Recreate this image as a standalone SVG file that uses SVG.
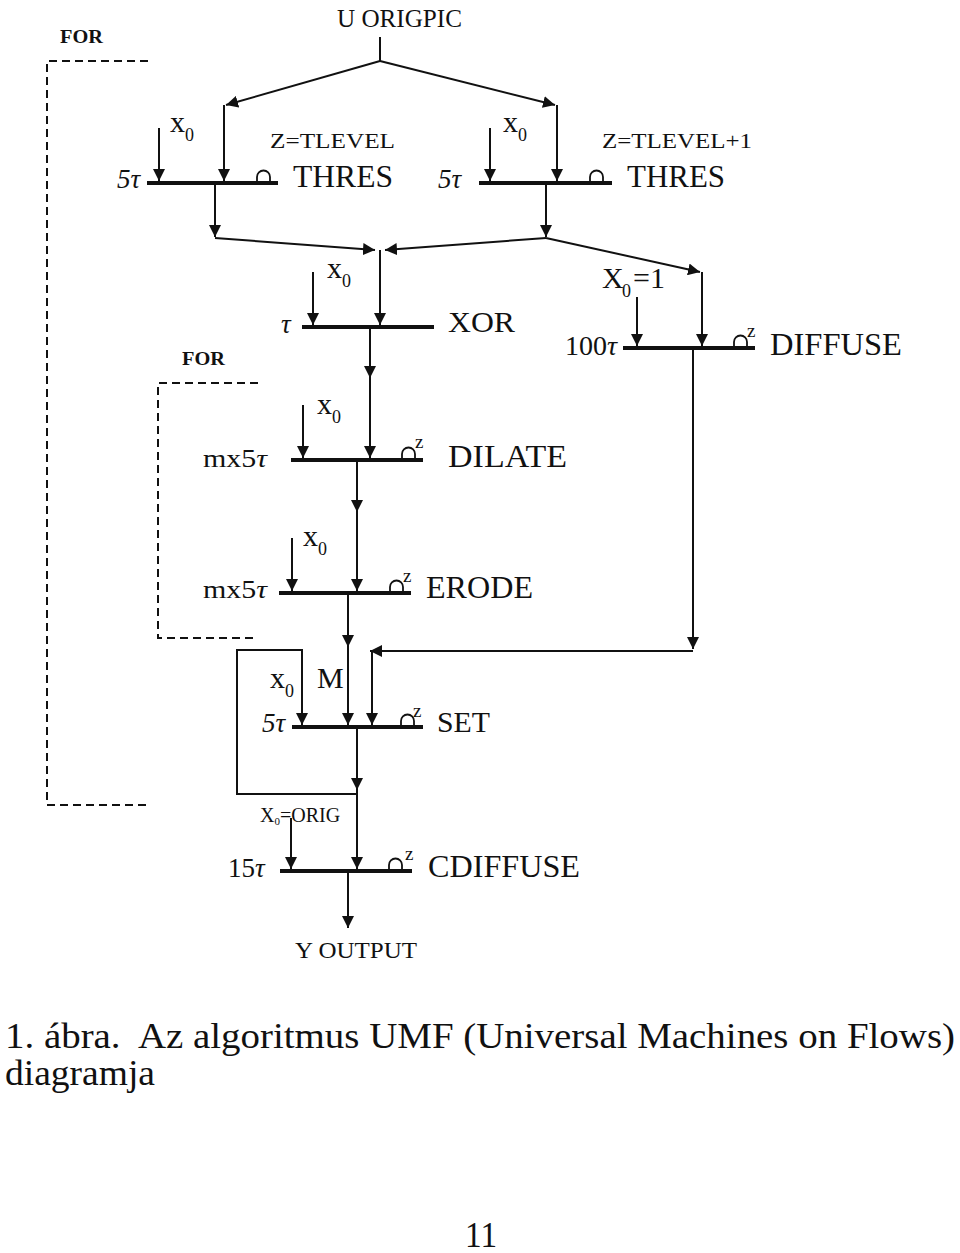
<svg xmlns="http://www.w3.org/2000/svg" width="960" height="1253" viewBox="0 0 960 1253">
<style>
text{font-family:"Liberation Serif","Times New Roman",serif;fill:#111}
.big{font-size:32px}
.mid{font-size:22px}
.sm{font-size:19px}
.x{font-size:30px}
.sub{font-size:18px}
.tau{font-size:27px;font-style:italic}
.cap{font-size:35px}
.bar{stroke:#111;stroke-width:4;fill:none}
.ln{stroke:#111;stroke-width:2;fill:none}
.arr{stroke:#111;stroke-width:2;fill:none;marker-end:url(#ah)}
.bump{stroke:#111;stroke-width:1.8;fill:none}
.dash{stroke:#111;stroke-width:2;fill:none;stroke-dasharray:8 5}
</style>
<defs>
<marker id="ah" viewBox="0 0 10 10" refX="10" refY="5" markerWidth="12" markerHeight="12" markerUnits="userSpaceOnUse" orient="auto">
<path d="M0,0 L10,5 L0,10 z" fill="#111"/>
</marker>
</defs>
<rect width="960" height="1253" fill="#fff"/>

<g id="loops">
<path class="dash" d="M148,61 L47,61 L47,805 L148,805"/>
<text class="sm" x="60" y="43" textLength="43" lengthAdjust="spacingAndGlyphs" font-weight="bold">FOR</text>
<path class="dash" d="M258,383 L158,383 L158,638 L258,638"/>
<text class="sm" x="182" y="365" textLength="43" lengthAdjust="spacingAndGlyphs" font-weight="bold">FOR</text>
</g>

<g id="input">
<text x="337" y="27" style="font-size:25px" textLength="125" lengthAdjust="spacingAndGlyphs">U ORIGPIC</text>
</g>

<g id="connectors">
<path class="ln" d="M380,37 L380,61"/>
<path class="arr" d="M380,61 L226,105"/>
<path class="arr" d="M224,105 L224,181"/>
<path class="arr" d="M380,61 L555,105"/>
<path class="arr" d="M557,105 L557,181"/>
<path class="arr" d="M215,185 L215,237"/>
<path class="arr" d="M546,185 L546,237"/>
<path class="arr" d="M215,238 L375,250"/>
<path class="arr" d="M546,238 L385,250"/>
<path class="arr" d="M380,250 L380,325"/>
<path class="arr" d="M546,238 L700,272"/>
<path class="arr" d="M702,272 L702,346"/>
<path class="arr" d="M370,329 L370,378"/>
<path class="arr" d="M370,378 L370,458"/>
<path class="arr" d="M357,462 L357,512"/>
<path class="arr" d="M357,512 L357,591"/>
<path class="arr" d="M348,595 L348,647"/>
<path class="arr" d="M348,647 L348,725"/>
<path class="arr" d="M693,350 L693,649"/>
<path class="arr" d="M693,651 L370,651"/>
<path class="arr" d="M372,651 L372,725"/>
<path class="arr" d="M357,729 L357,790"/>
<path class="arr" d="M357,790 L357,869"/>
<path class="arr" d="M357,794 L237,794 L237,650 L302,650 L302,725"/>
<path class="arr" d="M348,873 L348,928"/>
</g>

<g id="thres1">
<path class="bar" d="M147,183 L278,183"/>
<path class="arr" d="M159,128 L159,181"/>
<path class="bump" d="M257,181 v-4 a6.5,6.5 0 0 1 13,0 v4"/>
<text class="tau" x="117" y="188">5τ</text>
<text class="x" x="170" y="132">x<tspan class="sub" dy="9">0</tspan></text>
<text class="mid" x="270" y="148" textLength="125" lengthAdjust="spacingAndGlyphs">Z=TLEVEL</text>
<text class="big" x="293" y="187" textLength="100" lengthAdjust="spacingAndGlyphs">THRES</text>
</g>

<g id="thres2">
<path class="bar" d="M479,183 L612,183"/>
<path class="arr" d="M490,128 L490,181"/>
<path class="bump" d="M590,181 v-4 a6.5,6.5 0 0 1 13,0 v4"/>
<text class="tau" x="438" y="188">5τ</text>
<text class="x" x="503" y="132">x<tspan class="sub" dy="9">0</tspan></text>
<text class="mid" x="602" y="148" textLength="150" lengthAdjust="spacingAndGlyphs">Z=TLEVEL+1</text>
<text class="big" x="627" y="187" textLength="98" lengthAdjust="spacingAndGlyphs">THRES</text>
</g>

<g id="xor">
<path class="bar" d="M302,327 L434,327"/>
<path class="arr" d="M313,272 L313,325"/>
<text class="tau" x="281" y="333">τ</text>
<text class="x" x="327" y="278">x<tspan class="sub" dy="9">0</tspan></text>
<text style="font-size:30px" x="448" y="332" textLength="67" lengthAdjust="spacingAndGlyphs">XOR</text>
</g>

<g id="diffuse">
<path class="bar" d="M623,348 L755,348"/>
<path class="arr" d="M637,297 L637,346"/>
<path class="bump" d="M734,346 v-4 a6.5,6.5 0 0 1 13,0 v4"/>
<text class="sm" x="747" y="337">z</text>
<text style="font-size:30px" x="602" y="288">X<tspan class="sub" x="622" y="297">0</tspan><tspan x="633" y="288">=1</tspan></text>
<text style="font-size:28px" x="565" y="355">100<tspan font-style="italic">τ</tspan></text>
<text class="big" x="770" y="355" textLength="132" lengthAdjust="spacingAndGlyphs">DIFFUSE</text>
</g>

<g id="dilate">
<path class="bar" d="M291,460 L423,460"/>
<path class="arr" d="M303,405 L303,458"/>
<path class="bump" d="M402,458 v-4 a6.5,6.5 0 0 1 13,0 v4"/>
<text class="sm" x="415" y="448">z</text>
<text style="font-size:26px" x="203" y="467" textLength="64" lengthAdjust="spacingAndGlyphs">mx5<tspan font-style="italic">τ</tspan></text>
<text class="x" x="317" y="414">x<tspan class="sub" dy="9">0</tspan></text>
<text class="big" x="448" y="467" textLength="119" lengthAdjust="spacingAndGlyphs">DILATE</text>
</g>

<g id="erode">
<path class="bar" d="M279,593 L411,593"/>
<path class="arr" d="M292,538 L292,591"/>
<path class="bump" d="M390,591 v-4 a6.5,6.5 0 0 1 13,0 v4"/>
<text class="sm" x="403" y="582">z</text>
<text style="font-size:26px" x="203" y="598" textLength="64" lengthAdjust="spacingAndGlyphs">mx5<tspan font-style="italic">τ</tspan></text>
<text class="x" x="303" y="546">x<tspan class="sub" dy="9">0</tspan></text>
<text class="big" x="426" y="598" textLength="107" lengthAdjust="spacingAndGlyphs">ERODE</text>
</g>

<g id="set">
<path class="bar" d="M292,727 L423,727"/>
<path class="bump" d="M401,725 v-4 a6.5,6.5 0 0 1 13,0 v4"/>
<text class="sm" x="413" y="717">z</text>
<text class="tau" x="262" y="732">5τ</text>
<text class="x" x="270" y="688">x<tspan class="sub" dy="9">0</tspan></text>
<text style="font-size:30px" x="317" y="688">M</text>
<text style="font-size:30px" x="437" y="732" textLength="53" lengthAdjust="spacingAndGlyphs">SET</text>
</g>

<g id="cdiffuse">
<path class="bar" d="M280,871 L412,871"/>
<path class="arr" d="M291,818 L291,869"/>
<path class="bump" d="M389,869 v-4 a6.5,6.5 0 0 1 13,0 v4"/>
<text class="sm" x="405" y="860">z</text>
<text style="font-size:20px" x="260" y="822">X<tspan style="font-size:11px" dy="3">0</tspan><tspan dy="-3">=ORIG</tspan></text>
<text class="tau" x="228" y="877"><tspan font-style="normal">15</tspan>τ</text>
<text class="big" x="428" y="877" textLength="152" lengthAdjust="spacingAndGlyphs">CDIFFUSE</text>
</g>

<g id="output">
<text style="font-size:23px" x="295" y="958" textLength="122" lengthAdjust="spacingAndGlyphs">Y OUTPUT</text>
</g>

<g id="caption">
<text class="cap" x="5" y="1048" textLength="950" lengthAdjust="spacingAndGlyphs" xml:space="preserve">1. ábra.  Az algoritmus UMF (Universal Machines on Flows)</text>
<text class="cap" x="5" y="1085" textLength="150" lengthAdjust="spacingAndGlyphs">diagramja</text>
<text class="cap" x="465" y="1247" textLength="32" lengthAdjust="spacingAndGlyphs">11</text>
</g>
</svg>
